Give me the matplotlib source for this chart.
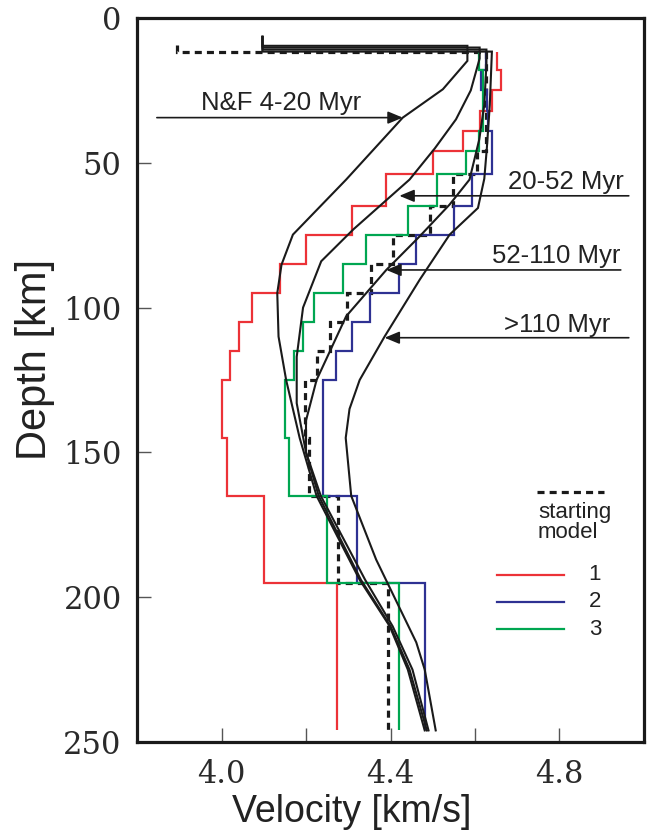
import numpy as np
import matplotlib
matplotlib.use("Agg")
import matplotlib.pyplot as plt

# layer boundaries (km) shared by the inverted models
layer_edges = [11.7, 18, 25, 32, 39, 46, 54, 65, 75, 85, 95, 105, 115, 125, 145, 165, 195, 246]

# inverted models 1-3, velocity per layer (km/s)
model1 = [4.651, 4.662, 4.640, 4.613, 4.571, 4.500, 4.390, 4.310, 4.199, 4.139,
          4.072, 4.041, 4.020, 4.001, 4.012, 4.100, 4.273]
model2 = [4.625, 4.614, 4.628, 4.630, 4.641, 4.641, 4.592, 4.551, 4.461, 4.420,
          4.351, 4.310, 4.272, 4.240, 4.240, 4.321, 4.481]
model3 = [4.610, 4.620, 4.620, 4.620, 4.610, 4.579, 4.510, 4.441, 4.341, 4.287,
          4.218, 4.193, 4.171, 4.150, 4.160, 4.250, 4.420]

# starting model
start_edges = [9.3] + layer_edges
start_vel = [3.894, 4.625, 4.625, 4.625, 4.625, 4.625, 4.605, 4.548, 4.493, 4.405,
             4.355, 4.296, 4.257, 4.225, 4.198, 4.206, 4.275, 4.395]

# Nishimura & Forsyth age-averaged profiles
nf_4_20_v = [4.097, 4.097, 4.582, 4.582, 4.524, 4.429, 4.295, 4.169, 4.142, 4.132,
             4.135, 4.153, 4.185, 4.225, 4.327, 4.398, 4.441, 4.481]
nf_4_20_z = [6.5, 9.6, 9.6, 14.8, 24.6, 34.4, 55.8, 74.8, 85.2, 95,
             110, 125, 145, 165, 194, 210, 225, 246]
nf_20_52_v = [4.097, 4.097, 4.611, 4.611, 4.590, 4.555, 4.505, 4.445, 4.312, 4.236,
              4.193, 4.178, 4.178, 4.200, 4.230, 4.330, 4.400, 4.445, 4.486]
nf_20_52_z = [6.5, 10.2, 10.2, 14, 25, 35, 45, 55.8, 73, 84,
              100, 117, 133, 150, 165, 194, 210, 225, 246]
nf_52_110_v = [4.097, 4.097, 4.627, 4.627, 4.622, 4.610, 4.587, 4.540, 4.469, 4.390,
               4.295, 4.225, 4.200, 4.200, 4.235, 4.340, 4.405, 4.452, 4.490]
nf_52_110_z = [6.5, 10.9, 10.9, 16, 30, 42, 55.8, 64.4, 75.4, 87,
               103, 125, 139, 150, 165, 194, 210, 225, 246]
nf_110_v = [4.097, 4.097, 4.640, 4.635, 4.628, 4.622, 4.607, 4.540, 4.469, 4.386,
            4.327, 4.303, 4.294, 4.307, 4.366, 4.461, 4.481, 4.507]
nf_110_z = [6.5, 11.6, 11.6, 30, 45, 55.5, 65.6, 74.8, 90.4, 110,
            125, 135, 145, 165, 187, 215.6, 225, 246]

# arrow labels: text, text pos (v, z), arrow tail v, arrow head v, arrow depth
labels = ["N&F 4-20 Myr", "20-52 Myr", "52-110 Myr", ">110 Myr"]
label_pos = [(4.14, 29.5), (4.814, 56.8), (4.792, 82.2), (4.795, 106.0)]
arrow_tail = [3.847, 4.964, 4.945, 4.964]
arrow_head = [4.429, 4.421, 4.390, 4.386]
arrow_depth = [34.4, 61.4, 87.0, 110.4]

RED = "#ec3237"
BLUE = "#2e3192"
GREEN = "#00a651"
sans = "Liberation Sans"
serif = "DejaVu Serif"

fig = plt.figure(figsize=(6.49, 8.33), dpi=100)
ax = fig.add_axes([137 / 649, 1 - 742 / 833, (644 - 137) / 649, (742 - 18) / 833])

for v, z in [(nf_4_20_v, nf_4_20_z), (nf_20_52_v, nf_20_52_z),
             (nf_52_110_v, nf_52_110_z), (nf_110_v, nf_110_z)]:
    ax.plot(v, z, color="#1a1a1a", lw=1.5, solid_joinstyle="miter")

ax.stairs(start_vel, start_edges, orientation="horizontal", baseline=None,
          color="#1a1a1a", lw=2.3, linestyle=(0, (2.2, 1.6)))
ax.stairs(model1, layer_edges, orientation="horizontal", baseline=None, color=RED, lw=1.6)
ax.stairs(model2, layer_edges, orientation="horizontal", baseline=None, color=BLUE, lw=1.6)
ax.stairs(model3, layer_edges, orientation="horizontal", baseline=None, color=GREEN, lw=1.6)

for txt, (tx, tz), t0, t1, az in zip(labels, label_pos, arrow_tail, arrow_head, arrow_depth):
    ax.text(tx, tz, txt, ha="center", va="center", fontsize=18.5, family=sans, color="#222222")
    ax.annotate("", xy=(t1, az), xytext=(t0, az),
                arrowprops=dict(arrowstyle="-|>,head_length=0.6,head_width=0.25",
                                mutation_scale=15, lw=1.2, color="#1a1a1a",
                                shrinkA=0, shrinkB=0))

# legend drawn by hand
tr = ax.transAxes
ax.plot([0.789, 0.921], [0.3457, 0.3457], transform=tr, color="#1a1a1a", lw=2.3,
        linestyle=(0, (2.2, 1.6)))
ax.text(0.791, 0.303, "starting\nmodel", transform=tr, ha="left", va="center",
        fontsize=16, family=sans, linespacing=0.95, color="#222222")
for c, y, lab in [(RED, 0.2307, "1"), (BLUE, 0.1938, "2"), (GREEN, 0.156, "3")]:
    ax.plot([0.710, 0.842], [y, y], transform=tr, color=c, lw=1.6)
    ax.text(0.903, y, lab, transform=tr, ha="center", va="center", fontsize=16,
            family=sans, color="#222222")

ax.set_xlim(3.8, 5.0)
ax.set_ylim(250, 0)
ax.set_xticks([4.0, 4.4, 4.8])
ax.set_xticklabels(["4.0", "4.4", "4.8"])
ax.set_xticks([4.2, 4.6], minor=True)
ax.set_yticks([0, 50, 100, 150, 200, 250])
ax.tick_params(axis="both", which="both", direction="in", length=10, width=1.0,
               color="#555555", labelsize=22, top=False, right=False)
ax.tick_params(axis="x", which="both", pad=12)
ax.tick_params(axis="y", pad=11)
for lab in ax.get_xticklabels() + ax.get_yticklabels():
    lab.set_family(serif)
    lab.set_color("#2a2a2a")

for s in ax.spines.values():
    s.set_linewidth(2.3)
    s.set_color("#1a1a1a")

ax.set_xlabel("Velocity [km/s]", fontsize=27, family=sans, color="#222222")
ax.set_ylabel("Depth [km]", fontsize=30, family=sans, color="#222222")
ax.xaxis.set_label_coords(0.424, -0.072)
ax.yaxis.set_label_coords(-0.161, 0.529)

fig.savefig("out.png", dpi=100)
